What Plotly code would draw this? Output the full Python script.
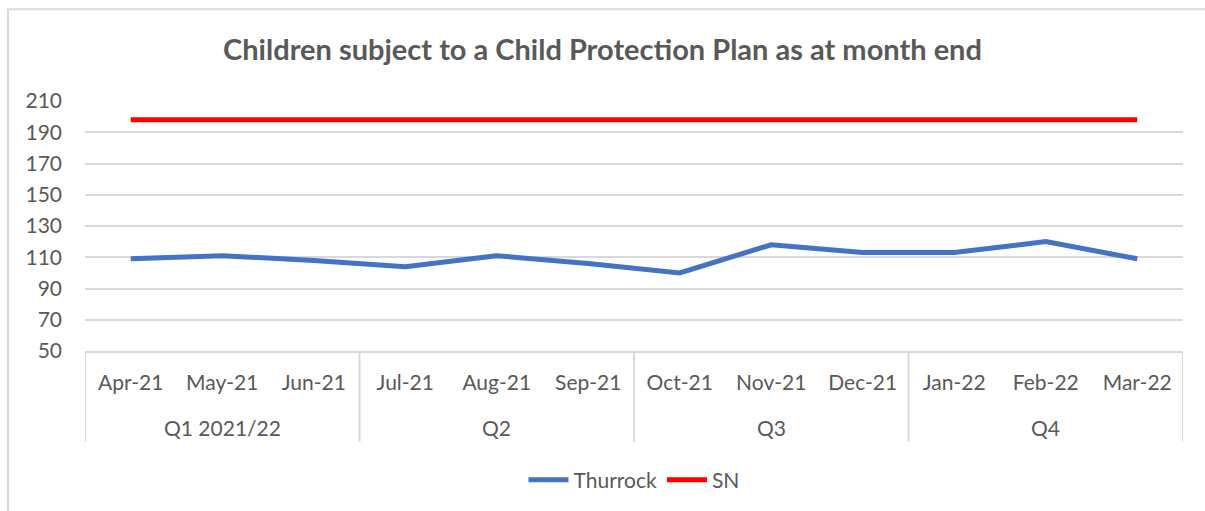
import plotly.graph_objects as go

months = ["Apr-21", "May-21", "Jun-21", "Jul-21", "Aug-21", "Sep-21",
          "Oct-21", "Nov-21", "Dec-21", "Jan-22", "Feb-22", "Mar-22"]
quarters = ["Q1 2021/22", "Q2", "Q3", "Q4"]
thurrock = [109, 111, 108, 104, 111, 106, 100, 118, 113, 113, 120, 109]
sn = [198] * 12

TXT = "#595959"
GRID = "#D9D9D9"
FONT = "Lato"

x = list(range(len(months)))

fig = go.Figure()
fig.add_trace(go.Scatter(x=x, y=thurrock, name="Thurrock", mode="lines",
                         line=dict(color="#4472C4", width=5)))
fig.add_trace(go.Scatter(x=x, y=sn, name="SN", mode="lines",
                         line=dict(color="#FF0000", width=5)))

# plot area geometry (px)
W, H = 1205, 511
L, R, T, B = 85, 22, 101, 159
pw, ph = W - L - R, H - T - B

def py(pix):
    return (H - B - pix) / ph

def px(pix):
    return (pix - L) / pw

shapes = []
# quarter dividers
for q in range(len(quarters) + 1):
    xv = q * 3 - 0.5
    shapes.append(dict(type="line", xref="x", yref="paper", x0=xv, x1=xv,
                       y0=0, y1=py(443), line=dict(color=GRID, width=2)))
# outer chart border
shapes.append(dict(type="rect", xref="paper", yref="paper",
                   x0=px(8), x1=px(W + 10), y0=py(H + 10), y1=py(9),
                   line=dict(color=GRID, width=2), fillcolor="rgba(0,0,0,0)"))

annotations = []
for i, q in enumerate(quarters):
    annotations.append(dict(text=q, xref="x", yref="paper", x=i * 3 + 1,
                            y=py(429), showarrow=False,
                            font=dict(family=FONT, size=21, color=TXT),
                            xanchor="center", yanchor="middle"))

fig.update_layout(
    width=W, height=H,
    margin=dict(l=L, r=R, t=T, b=B),
    paper_bgcolor="white", plot_bgcolor="white",
    font=dict(family=FONT, size=21, color=TXT),
    title=dict(text="<b>Children subject to a Child Protection Plan as at month end</b>",
               x=0.5, xref="container", xanchor="center",
               y=1 - 50 / H, yref="container", yanchor="middle",
               font=dict(family=FONT, size=29, color=TXT)),
    xaxis=dict(range=[-0.5, len(months) - 0.5], tickmode="array",
               tickvals=x, ticktext=months, showgrid=False, zeroline=False,
               showline=True, linecolor=GRID, linewidth=2,
               ticks="", ticklabelstandoff=12,
               tickfont=dict(family=FONT, size=21, color=TXT), fixedrange=True),
    yaxis=dict(range=[50, 210], dtick=20, tick0=50, showgrid=True,
               gridcolor=GRID, gridwidth=2, zeroline=False, showline=False,
               ticks="", ticklabelstandoff=22,
               tickfont=dict(family=FONT, size=21, color=TXT), fixedrange=True),
    legend=dict(orientation="h", x=0.5, xanchor="center", y=py(480),
                yanchor="middle", font=dict(family=FONT, size=21, color=TXT),
                itemwidth=40),
    shapes=shapes,
    annotations=annotations,
)

fig.write_html("out.html")
